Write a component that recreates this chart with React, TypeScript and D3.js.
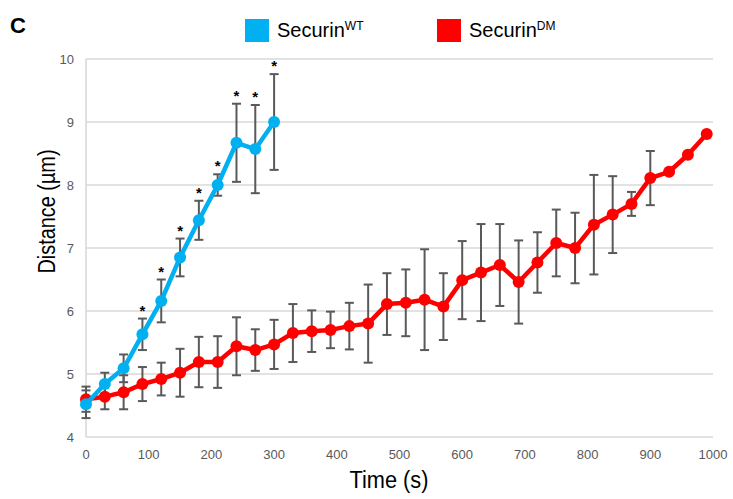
import React from "react";
import * as d3 from "d3";

const wtTime = [0, 30, 60, 90, 120, 150, 180, 210, 240, 270, 300];
const wtMean = [4.52, 4.84, 5.09, 5.63, 6.16, 6.85, 7.44, 8.0, 8.67, 8.57, 9.0];
const wtErr = [0.22, 0.18, 0.22, 0.25, 0.34, 0.3, 0.31, 0.17, 0.62, 0.7, 0.76];
const wtSignif = [false, false, false, true, true, true, true, true, true, true, true];

const dmTime = [
  0, 30, 60, 90, 120, 150, 180, 210, 240, 270, 300, 330, 360, 390, 420, 450, 480,
  510, 540, 570, 600, 630, 660, 690, 720, 750, 780, 810, 840, 870, 900, 930, 960, 990,
];
const dmMean = [
  4.6, 4.64, 4.71, 4.84, 4.92, 5.02, 5.19, 5.19, 5.44, 5.38, 5.47, 5.65, 5.68, 5.7,
  5.76, 5.8, 6.11, 6.13, 6.18, 6.07, 6.49, 6.61, 6.73, 6.46, 6.77, 7.08, 7.0, 7.37,
  7.53, 7.7, 8.11, 8.21, 8.48, 8.81,
];
const dmErr = [
  0.2, 0.2, 0.27, 0.27, 0.26, 0.38, 0.4, 0.41, 0.46, 0.33, 0.39, 0.46, 0.33, 0.29,
  0.37, 0.62, 0.49, 0.53, 0.8, 0.53, 0.62, 0.77, 0.65, 0.66, 0.48, 0.53, 0.56, 0.79,
  0.61, 0.19, 0.43, 0, 0, 0,
];

const xTicks = [0, 100, 200, 300, 400, 500, 600, 700, 800, 900, 1000];
const yTicks = [4, 5, 6, 7, 8, 9, 10];

const BLUE = "#00b0f0";
const RED = "#ff0000";
const ERR = "#595959";
const GRID = "#d9d9d9";
const FONT = "'Liberation Sans', Arial, sans-serif";

export default function App() {
  const W = 733;
  const H = 499;
  const left = 86;
  const right = 713;
  const top = 59;
  const bottom = 437;

  const x = d3.scaleLinear().domain([0, 1000]).range([left, right]);
  const y = d3.scaleLinear().domain([4, 10]).range([bottom, top]);

  const line = d3
    .line<[number, number]>()
    .x((d) => x(d[0]))
    .y((d) => y(d[1]));

  const wtPts: [number, number][] = wtTime.map((t, i) => [t, wtMean[i]]);
  const dmPts: [number, number][] = dmTime.map((t, i) => [t, dmMean[i]]);

  const errBars = (times: number[], means: number[], errs: number[], key: string) =>
    times.map((t, i) => {
      if (!errs[i]) return null;
      const cx = x(t);
      const y1 = y(means[i] + errs[i]);
      const y2 = y(means[i] - errs[i]);
      return (
        <g key={key + i} stroke={ERR} strokeWidth={2}>
          <line x1={cx} x2={cx} y1={y1} y2={y2} />
          <line x1={cx - 4.5} x2={cx + 4.5} y1={y1} y2={y1} />
          <line x1={cx - 4.5} x2={cx + 4.5} y1={y2} y2={y2} />
        </g>
      );
    });

  return (
    <svg
      width={W}
      height={H}
      style={{ position: "absolute", left: 0, top: 0, background: "#fff" }}
      fontFamily={FONT}
    >
      <rect width={W} height={H} fill="#fff" />
      {/* gridlines */}
      {yTicks.map((v) => (
        <line
          key={"g" + v}
          x1={left}
          x2={right}
          y1={y(v)}
          y2={y(v)}
          stroke={GRID}
          strokeWidth={1.6}
        />
      ))}
      <line x1={left} x2={left} y1={top} y2={bottom} stroke={GRID} strokeWidth={1.6} />
      {/* y tick labels */}
      {yTicks.map((v) => (
        <text
          key={"yt" + v}
          x={left - 12}
          y={y(v)}
          dy="0.35em"
          textAnchor="end"
          fontSize={13}
          fill="#595959"
        >
          {v}
        </text>
      ))}
      {/* x tick labels */}
      {xTicks.map((v) => (
        <text
          key={"xt" + v}
          x={x(v)}
          y={bottom + 22}
          textAnchor="middle"
          fontSize={13}
          fill="#595959"
        >
          {v}
        </text>
      ))}
      {/* axis titles */}
      <text
        x={389}
        y={488}
        textAnchor="middle"
        fontSize={23}
        textLength={79}
        lengthAdjust="spacingAndGlyphs"
        fill="#000"
      >
        Time (s)
      </text>
      <text
        transform={`translate(54.5, 211.5) rotate(-90)`}
        textAnchor="middle"
        fontSize={23}
        textLength={124}
        lengthAdjust="spacingAndGlyphs"
        fill="#000"
      >
        Distance (µm)
      </text>
      {/* panel letter */}
      <text x={10} y={33} fontSize={22} fontWeight="bold" fill="#000">
        C
      </text>
      {/* legend */}
      <rect x={245} y={19} width={24} height={23} fill={BLUE} />
      <text x={277} y={37} fontSize={20} fill="#000">
        Securin
        <tspan fontSize={12} dy={-7}>
          WT
        </tspan>
      </text>
      <rect x={437} y={19} width={24} height={23} fill={RED} />
      <text x={469} y={37} fontSize={20} fill="#000">
        Securin
        <tspan fontSize={12} dy={-7}>
          DM
        </tspan>
      </text>
      {/* error bars */}
      {errBars(dmTime, dmMean, dmErr, "de")}
      {errBars(wtTime, wtMean, wtErr, "we")}
      {/* red series */}
      <path d={line(dmPts) || ""} fill="none" stroke={RED} strokeWidth={4.5} strokeLinejoin="round" />
      {dmPts.map((p, i) => (
        <circle key={"dc" + i} cx={x(p[0])} cy={y(p[1])} r={6} fill={RED} />
      ))}
      {/* blue series */}
      <path d={line(wtPts) || ""} fill="none" stroke={BLUE} strokeWidth={4.5} strokeLinejoin="round" />
      {wtPts.map((p, i) => (
        <circle key={"wc" + i} cx={x(p[0])} cy={y(p[1])} r={6} fill={BLUE} />
      ))}
      {/* significance stars */}
      {wtTime.map((t, i) =>
        wtSignif[i] ? (
          <text
            key={"s" + i}
            x={x(t)}
            y={y(wtMean[i] + wtErr[i]) - 3}
            textAnchor="middle"
            fontSize={15}
            fontWeight="bold"
            fill="#000"
          >
            *
          </text>
        ) : null
      )}
    </svg>
  );
}
